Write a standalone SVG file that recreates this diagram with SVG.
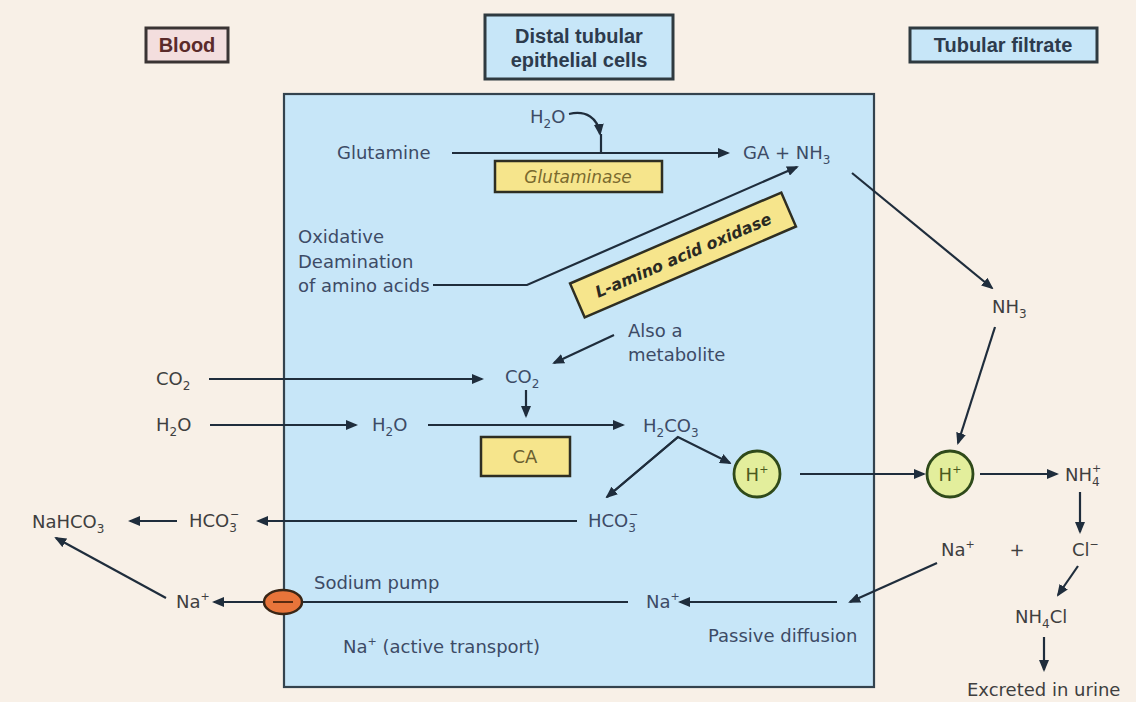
<svg xmlns="http://www.w3.org/2000/svg" width="1136" height="702" viewBox="0 0 1136 702">
<style>
text{font-family:"DejaVu Sans","Liberation Sans",sans-serif;font-size:18px}
.in{fill:#3d4b66}
.out{fill:#3f3f3f}
.hdr{font-family:"Liberation Sans",Arial,sans-serif;font-weight:bold;font-size:20px;text-anchor:middle}
.sub{font-size:12px}
.sup{font-size:11px}
.ln{stroke:#1f2d3c;stroke-width:2.2;fill:none}
.enz{fill:#f6e58c;stroke:#2e2e22;stroke-width:2.5}
.hion{fill:#e3ee9c;stroke:#2f4a1a;stroke-width:2.8}
</style>
<defs>
<marker id="ah" markerWidth="12" markerHeight="10" refX="10" refY="5" orient="auto" markerUnits="userSpaceOnUse">
<path d="M0,0 L12,5 L0,10 z" fill="#1f2d3c"/>
</marker>
</defs>
<rect x="0" y="0" width="1136" height="702" fill="#f8f0e7"/>

<g id="cell">
<rect x="284" y="94" width="590" height="593" fill="#c7e6f8" stroke="#34434e" stroke-width="2.2"/>
</g>

<g id="hdr-blood">
<rect x="146" y="28" width="82" height="34" fill="#f3dede" stroke="#3a3434" stroke-width="3"/>
<text class="hdr" x="187" y="52" fill="#5a2a2a">Blood</text>
</g>
<g id="hdr-distal">
<rect x="485" y="15" width="188" height="64" fill="#c7e6f8" stroke="#2f3a40" stroke-width="3"/>
<text class="hdr" x="579" y="43" fill="#2d3b4d">Distal tubular</text>
<text class="hdr" x="579" y="67" fill="#2d3b4d">epithelial cells</text>
</g>
<g id="hdr-filtrate">
<rect x="910" y="28" width="187" height="34" fill="#c7e6f8" stroke="#2f3a40" stroke-width="3"/>
<text class="hdr" x="1003" y="52" fill="#2d3b4d">Tubular filtrate</text>
</g>

<g id="connectors">
<path class="ln" d="M569,114 C586,110 598,118 600,134" marker-end="url(#ah)"/>
<line class="ln" x1="601" y1="134" x2="601" y2="153"/>
<line class="ln" x1="452" y1="153" x2="728" y2="153" marker-end="url(#ah)"/>
<polyline class="ln" points="433,285 527,285 797,167" marker-end="url(#ah)"/>
<line class="ln" x1="852" y1="173" x2="992" y2="288" marker-end="url(#ah)"/>
<line class="ln" x1="614" y1="335" x2="554" y2="363" marker-end="url(#ah)"/>
<line class="ln" x1="209" y1="379" x2="482" y2="379" marker-end="url(#ah)"/>
<line class="ln" x1="526" y1="390" x2="526" y2="416" marker-end="url(#ah)"/>
<line class="ln" x1="210" y1="425" x2="356" y2="425" marker-end="url(#ah)"/>
<line class="ln" x1="428" y1="425" x2="623" y2="425" marker-end="url(#ah)"/>
<polyline class="ln" points="607,497 678,437 730,463" marker-end="url(#ah)"/>
<line class="ln" x1="678" y1="437" x2="607" y2="497" marker-end="url(#ah)"/>
<line class="ln" x1="800" y1="474" x2="924" y2="474" marker-end="url(#ah)"/>
<line class="ln" x1="995" y1="327" x2="958" y2="443" marker-end="url(#ah)"/>
<line class="ln" x1="980" y1="474" x2="1057" y2="474" marker-end="url(#ah)"/>
<line class="ln" x1="1080" y1="492" x2="1080" y2="532" marker-end="url(#ah)"/>
<line class="ln" x1="1078" y1="566" x2="1058" y2="595" marker-end="url(#ah)"/>
<line class="ln" x1="1044" y1="637" x2="1044" y2="670" marker-end="url(#ah)"/>
<line class="ln" x1="577" y1="521" x2="258" y2="521" marker-end="url(#ah)"/>
<line class="ln" x1="177" y1="521" x2="130" y2="521" marker-end="url(#ah)"/>
<line class="ln" x1="937" y1="563" x2="850" y2="602" marker-end="url(#ah)"/>
<line class="ln" x1="837" y1="602" x2="680" y2="602" marker-end="url(#ah)"/>
<line class="ln" x1="628" y1="602" x2="302" y2="602"/>
<line class="ln" x1="264" y1="602" x2="214" y2="602" marker-end="url(#ah)"/>
<line class="ln" x1="166" y1="598" x2="56" y2="538" marker-end="url(#ah)"/>
</g>

<g id="h2o-top"><text class="in" x="530" y="123">H<tspan class="sub" dy="5">2</tspan><tspan dy="-5">O</tspan></text></g>
<g id="glutamine"><text class="in" x="337" y="159">Glutamine</text></g>
<g id="ga-nh3"><text class="in" x="743" y="159">GA + NH<tspan class="sub" dy="5">3</tspan></text></g>
<g id="glutaminase">
<rect class="enz" x="495" y="161" width="167" height="31"/>
<text x="578" y="183" text-anchor="middle" font-style="italic" style="font-size:17px" fill="#7a6a2e">Glutaminase</text>
</g>
<g id="oxidative">
<text class="in" x="298" y="243">Oxidative</text>
<text class="in" x="298" y="268">Deamination</text>
<text class="in" x="298" y="292">of amino acids</text>
</g>
<g id="laao" transform="translate(683,255) rotate(-23.3)">
<rect class="enz" x="-115" y="-18.5" width="230" height="37"/>
<text x="0" y="6" text-anchor="middle" font-weight="bold" font-style="italic" style="font-size:16px" fill="#2a2a22">L-amino acid oxidase</text>
</g>
<g id="metabolite">
<text class="in" x="628" y="337">Also a</text>
<text class="in" x="628" y="361">metabolite</text>
</g>
<g id="co2-blood"><text class="out" x="156" y="385">CO<tspan class="sub" dy="5">2</tspan></text></g>
<g id="co2-cell"><text class="in" x="505" y="383">CO<tspan class="sub" dy="5">2</tspan></text></g>
<g id="h2o-blood"><text class="out" x="156" y="431">H<tspan class="sub" dy="5">2</tspan><tspan dy="-5">O</tspan></text></g>
<g id="h2o-cell"><text class="in" x="372" y="431">H<tspan class="sub" dy="5">2</tspan><tspan dy="-5">O</tspan></text></g>
<g id="h2co3"><text class="in" x="643" y="432">H<tspan class="sub" dy="5">2</tspan><tspan dy="-5">CO</tspan><tspan class="sub" dy="5">3</tspan></text></g>
<g id="ca">
<rect class="enz" x="481" y="437" width="89" height="39"/>
<text x="525" y="463" text-anchor="middle" fill="#6a6030">CA</text>
</g>
<g id="hplus-cell">
<circle class="hion" cx="757" cy="474" r="23"/>
<text x="757" y="481" text-anchor="middle" fill="#4a5a1e">H<tspan class="sup" dy="-8">+</tspan></text>
</g>
<g id="hplus-filtrate">
<circle class="hion" cx="950" cy="474" r="23"/>
<text x="950" y="481" text-anchor="middle" fill="#4a5a1e">H<tspan class="sup" dy="-8">+</tspan></text>
</g>
<g id="nh3-filtrate"><text class="out" x="992" y="313">NH<tspan class="sub" dy="5">3</tspan></text></g>
<g id="nh4"><text class="out" x="1065" y="481">NH<tspan class="sub" dy="5">4</tspan><tspan class="sup" x="1092" dy="-14">+</tspan></text></g>
<g id="hco3-cell"><text class="in" x="588" y="527">HCO<tspan class="sub" dy="5">3</tspan><tspan class="sup" x="629" dy="-14">−</tspan></text></g>
<g id="hco3-blood"><text class="out" x="189" y="527">HCO<tspan class="sub" dy="5">3</tspan><tspan class="sup" x="230" dy="-14">−</tspan></text></g>
<g id="nahco3"><text class="out" x="32" y="528">NaHCO<tspan class="sub" dy="5">3</tspan></text></g>
<g id="na-filtrate"><text class="out" x="941" y="556">Na<tspan class="sup" dy="-8">+</tspan></text></g>
<g id="plus"><text class="out" x="1017" y="556" text-anchor="middle">+</text></g>
<g id="cl"><text class="out" x="1072" y="556">Cl<tspan class="sup" dy="-8">−</tspan></text></g>
<g id="nh4cl"><text class="out" x="1015" y="623">NH<tspan class="sub" dy="5">4</tspan><tspan dy="-5">Cl</tspan></text></g>
<g id="excreted"><text class="out" x="967" y="696">Excreted in urine</text></g>
<g id="na-cell"><text class="in" x="646" y="608">Na<tspan class="sup" dy="-8">+</tspan></text></g>
<g id="passive"><text class="in" x="708" y="642">Passive diffusion</text></g>
<g id="pump">
<ellipse cx="283" cy="602" rx="19" ry="12" fill="#e8743a" stroke="#3a2616" stroke-width="2.5"/>
<line x1="273" y1="602" x2="293" y2="602" stroke="#5a2a10" stroke-width="2"/>
</g>
<g id="sodium-pump"><text class="in" x="314" y="589">Sodium pump</text></g>
<g id="active"><text class="in" x="343" y="653">Na<tspan class="sup" dy="-8">+</tspan><tspan dy="8"> (active transport)</tspan></text></g>
<g id="na-blood"><text class="out" x="176" y="608">Na<tspan class="sup" dy="-8">+</tspan></text></g>
</svg>
